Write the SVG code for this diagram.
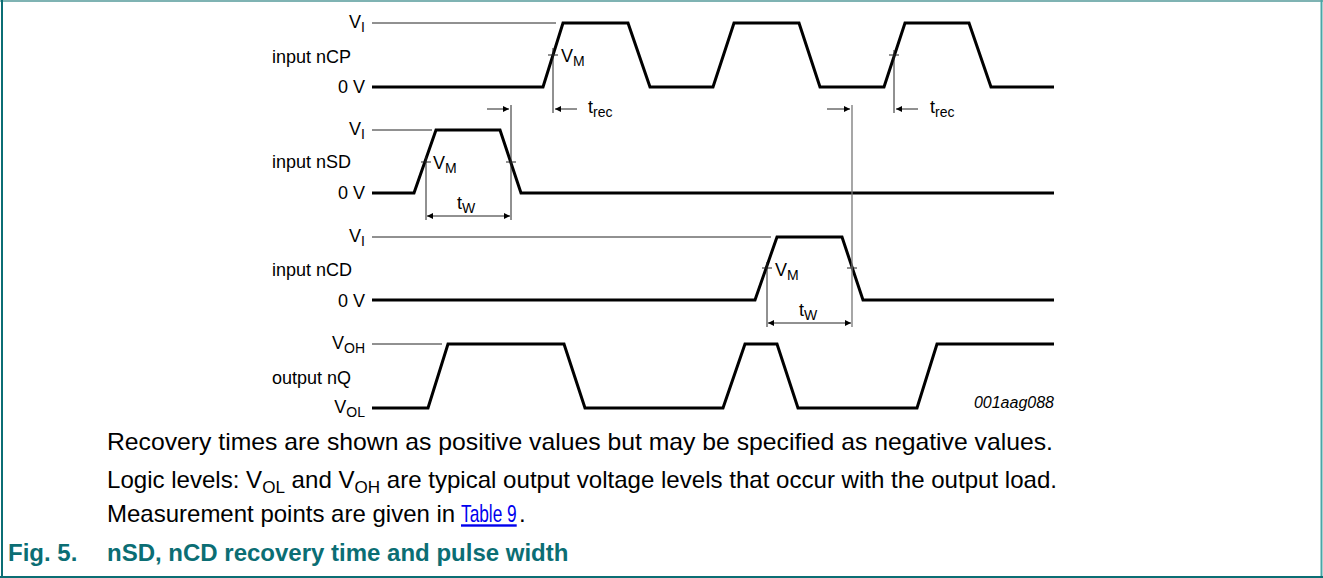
<svg xmlns="http://www.w3.org/2000/svg" width="1323" height="578" viewBox="0 0 1323 578">
<style>
text{font-family:"Liberation Sans",Arial,sans-serif;fill:#000}
.lbl{font-size:18px}
.sub{font-size:14px}
.body{font-size:24px}
.bsub{font-size:17px}
.title{font-size:24px;font-weight:bold;fill:#0b6e74}
.wave{fill:none;stroke:#000;stroke-width:3;stroke-linejoin:miter}
.ref{fill:none;stroke:#222;stroke-width:1}
.dim{fill:none;stroke:#222;stroke-width:1}
</style>
<defs>
<marker id="ah" viewBox="0 0 10 10" refX="10" refY="5" markerWidth="10" markerHeight="6" markerUnits="userSpaceOnUse" orient="auto-start-reverse">
<path d="M0,0 L10,5 L0,10 z" fill="#000"/>
</marker>
</defs>
<rect x="0" y="0" width="1323" height="578" fill="#fff"/>
<!-- frame -->
<line x1="0" y1="1" x2="1323" y2="1" stroke="#7fb3b3" stroke-width="2"/>
<line x1="2" y1="0" x2="2" y2="578" stroke="#0b6e74" stroke-width="2"/>
<line x1="1321.5" y1="0" x2="1321.5" y2="578" stroke="#4aa6a6" stroke-width="2"/>
<line x1="0" y1="577" x2="1323" y2="577" stroke="#0b6e74" stroke-width="2"/>

<g id="nCP">
<text class="lbl" x="365" y="28" text-anchor="end">V<tspan class="sub" dy="4">I</tspan></text>
<text class="lbl" x="272" y="63">input nCP</text>
<text class="lbl" x="365" y="93" text-anchor="end">0 V</text>
<line class="ref" x1="372" y1="23" x2="556" y2="23"/>
<polyline class="wave" points="372,87 543,87 563,23 628,23 650,87 713,87 734,23 799,23 820,87 884,87 905,23 969,23 991,87 1054,87"/>
<line class="ref" x1="548" y1="55" x2="558" y2="55"/>
<text class="lbl" x="561" y="62">V<tspan class="sub" dy="4">M</tspan></text>
<line class="ref" x1="889" y1="55" x2="899" y2="55"/>
</g>

<g id="nSD">
<text class="lbl" x="365" y="135" text-anchor="end">V<tspan class="sub" dy="4">I</tspan></text>
<text class="lbl" x="272" y="168">input nSD</text>
<text class="lbl" x="365" y="199" text-anchor="end">0 V</text>
<line class="ref" x1="372" y1="130" x2="432" y2="130"/>
<polyline class="wave" points="372,193 414,193 436,130 500,130 521,193 1054,193"/>
<line class="ref" x1="421" y1="162" x2="431" y2="162"/>
<line class="ref" x1="506" y1="162" x2="516" y2="162"/>
<text class="lbl" x="433" y="169">V<tspan class="sub" dy="4">M</tspan></text>
</g>

<g id="nCD">
<text class="lbl" x="365" y="242" text-anchor="end">V<tspan class="sub" dy="4">I</tspan></text>
<text class="lbl" x="272" y="276">input nCD</text>
<text class="lbl" x="365" y="307" text-anchor="end">0 V</text>
<line class="ref" x1="372" y1="237" x2="771" y2="237"/>
<polyline class="wave" points="372,300 755,300 777,237 842,237 863,300 1054,300"/>
<line class="ref" x1="762" y1="268" x2="772" y2="268"/>
<line class="ref" x1="847" y1="268" x2="857" y2="268"/>
<text class="lbl" x="775" y="276">V<tspan class="sub" dy="4">M</tspan></text>
</g>

<g id="nQ">
<text class="lbl" x="365" y="349" text-anchor="end">V<tspan class="sub" dy="4">OH</tspan></text>
<text class="lbl" x="272" y="384">output nQ</text>
<text class="lbl" x="365" y="413" text-anchor="end">V<tspan class="sub" dy="4">OL</tspan></text>
<line class="ref" x1="372" y1="344" x2="442" y2="344"/>
<polyline class="wave" points="372,408 428,408 448,344 564,344 585,408 723,408 745,344 777,344 798,408 917,408 937,344 1054,344"/>
<text x="1054" y="408" text-anchor="end" style="font-size:16px;font-style:italic">001aag088</text>
</g>

<g id="connectors">
<line class="dim" x1="553" y1="48" x2="553" y2="113"/>
<line class="dim" x1="577" y1="109" x2="555" y2="109" marker-end="url(#ah)"/>
<text class="lbl" x="588" y="113">t<tspan class="sub" dy="4">rec</tspan></text>
<line class="dim" x1="894" y1="50" x2="894" y2="113"/>
<line class="dim" x1="918" y1="109" x2="896" y2="109" marker-end="url(#ah)"/>
<text class="lbl" x="930" y="113">t<tspan class="sub" dy="4">rec</tspan></text>
<line class="dim" x1="827" y1="109" x2="850" y2="109" marker-end="url(#ah)"/>
<line x1="852" y1="105" x2="852" y2="327" stroke="#777" stroke-width="1.3"/>
<line class="dim" x1="487" y1="109" x2="509" y2="109" marker-end="url(#ah)"/>
<line class="dim" x1="511" y1="105" x2="511" y2="220"/>
<line class="dim" x1="426" y1="156" x2="426" y2="220"/>
<line class="dim" x1="427" y1="216" x2="510" y2="216" marker-start="url(#ah)" marker-end="url(#ah)"/>
<text class="lbl" x="457" y="209">t<tspan class="sub" dy="4">W</tspan></text>
<line class="dim" x1="767" y1="262" x2="767" y2="327"/>
<line class="dim" x1="768" y1="323" x2="851" y2="323" marker-start="url(#ah)" marker-end="url(#ah)"/>
<text class="lbl" x="799" y="316">t<tspan class="sub" dy="4">W</tspan></text>
</g>

<g id="caption">
<text class="body" x="107" y="450" textLength="946" lengthAdjust="spacingAndGlyphs">Recovery times are shown as positive values but may be specified as negative values.</text>
<text class="body" x="107" y="488" textLength="950" lengthAdjust="spacingAndGlyphs">Logic levels: V<tspan class="bsub" dy="5">OL</tspan><tspan dy="-5"> and V</tspan><tspan class="bsub" dy="5">OH</tspan><tspan dy="-5"> are typical output voltage levels that occur with the output load.</tspan></text>
<text class="body" x="107" y="522">Measurement points are given in</text>
<text class="body" transform="translate(461 522) scale(0.72 1)" x="0" y="0" style="fill:#0000ee" text-decoration="underline">Table 9</text>
<text class="body" x="519" y="522">.</text>
<text class="title" x="8" y="561">Fig. 5.</text>
<text class="title" x="107" y="561">nSD, nCD recovery time and pulse width</text>
</g>
</svg>
